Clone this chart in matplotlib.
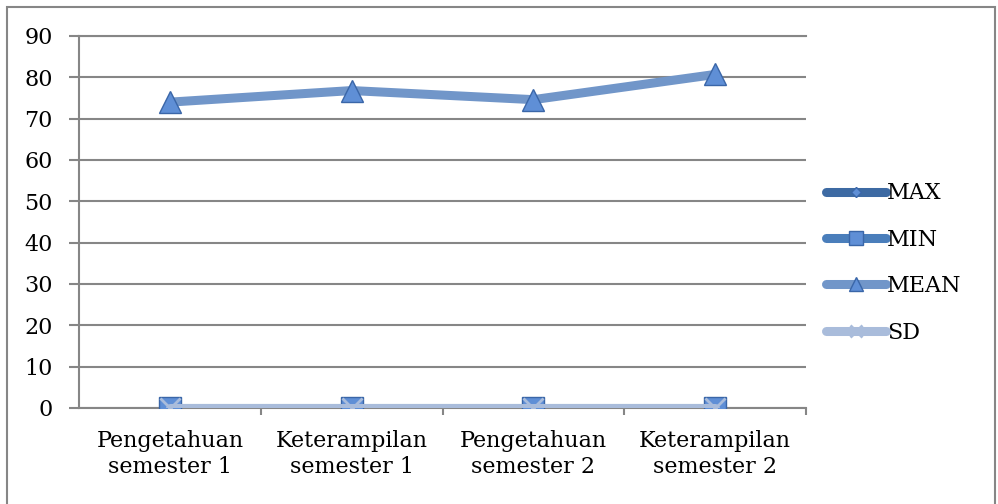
import matplotlib
matplotlib.use("Agg")
import matplotlib.pyplot as plt
from matplotlib.patches import Rectangle

categories = ["Pengetahuan\nsemester 1", "Keterampilan\nsemester 1",
              "Pengetahuan\nsemester 2", "Keterampilan\nsemester 2"]
max_vals = [0, 0, 0, 0]
min_vals = [0, 0, 0, 0]
mean_vals = [74.0, 76.8, 74.6, 80.7]
sd_vals = [0, 0, 0, 0]
yticks = [0, 10, 20, 30, 40, 50, 60, 70, 80, 90]

plt.rcParams['font.family'] = ['DejaVu Serif']

fig = plt.figure(figsize=(9.98, 5.04), dpi=100)
ax = fig.add_axes([79/998, 96/504, 727/998, 372/504])

x = list(range(len(categories)))
mk_face = "#5f8fd6"
mk_edge = "#3a66a8"

ax.plot(x, max_vals, color="#3d6aa3", lw=6.5, marker="D", ms=9, mew=1,
        mfc=mk_face, mec=mk_edge, label="MAX", zorder=3, solid_capstyle="round")
ax.plot(x, min_vals, color="#4a7ebb", lw=6.5, marker="s", ms=16, mew=1,
        mfc=mk_face, mec=mk_edge, label="MIN", zorder=4, solid_capstyle="round")
ax.plot(x, mean_vals, color="#7196c9", lw=6.5, marker="^", ms=16, mew=1,
        mfc=mk_face, mec=mk_edge, label="MEAN", zorder=5, solid_capstyle="round")
ax.plot(x, sd_vals, color="#a9bcdb", lw=6.5, marker="x", ms=14, mew=2,
        mec="#a9bcdb", label="SD", zorder=6, solid_capstyle="round")

ax.set_xlim(-0.5, 3.5)
ax.set_ylim(0, 90)
ax.set_yticks(yticks)
ax.set_xticks(x)
ax.set_xticklabels(categories, fontsize=16, linespacing=1.2)
ax.set_xticks([0.5, 1.5, 2.5, 3.5], minor=True)
ax.tick_params(axis="x", which="major", length=0, pad=16)
ax.tick_params(axis="x", which="minor", length=5, width=1.5, color="#868686")
ax.tick_params(axis="y", labelsize=16, length=7, width=1.5, color="#868686", pad=12)
ax.grid(axis="y", color="#868686", lw=1.5)
ax.set_axisbelow(True)
ax.spines["right"].set_visible(False)
for s in ["left", "bottom", "top"]:
    ax.spines[s].set_color("#868686")
    ax.spines[s].set_linewidth(1.5)

leg = ax.legend(loc="center left", bbox_to_anchor=(826/998, 1 - 263/504),
                bbox_transform=fig.transFigure, frameon=False, fontsize=16,
                handlelength=2.7, handletextpad=0.05, labelspacing=1.1,
                borderaxespad=0, borderpad=0, markerscale=0.6)

# outer chart border
fig.patches.append(Rectangle((7/998, -0.1), 988/998, 1.1 - 7/504,
                             transform=fig.transFigure, fill=False,
                             edgecolor="#868686", lw=1.5))

fig.savefig("out.png", dpi=100)
